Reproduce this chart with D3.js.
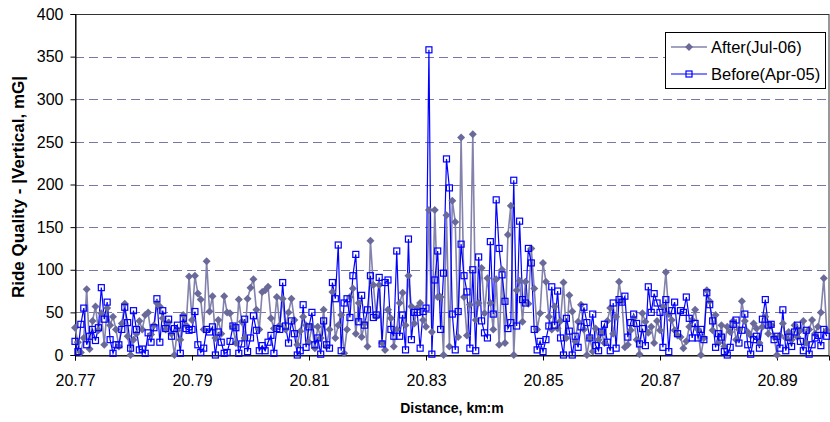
<!DOCTYPE html>
<html>
<head>
<meta charset="utf-8">
<script src="https://cdn.jsdelivr.net/npm/d3@7/dist/d3.min.js"></script>
<style>
  body { margin: 0; background: #fff; }
  text { font-family: Arial, "Liberation Sans", sans-serif; }
</style>
</head>
<body>
<div id="chart"></div>
<script>
// chart size and plot area
const width = 830;
const height = 422;
const margin = {top: 14, right: 1, bottom: 67, left: 75};

// distance axis: first sample and sample step (km), tick labels
var startKm = 20.77;
var stepKm = 0.0005;
var xTicks = [20.77, 20.79, 20.81, 20.83, 20.85, 20.87, 20.89];
var yTicks = [0, 50, 100, 150, 200, 250, 300, 350, 400];
var seriesNames = ["After(Jul-06)", "Before(Apr-05)"];

// ride quality values (mG), one per sample
var afterValues = [
  32, 15, 3, 20, 77, 7, 40, 57, 29, 49,
  12, 55, 35, 45, 30, 10, 37, 60, 22, 0,
  18, 25, 40, 30, 47, 50, 24, 35, 61, 57,
  43, 30, 38, 25, 0, 29, 18, 47, 35, 92,
  41, 93, 72, 65, 30, 110, 51, 69, 20, 41,
  25, 69, 50, 49, 33, 14, 65, 39, 20, 66,
  79, 89, 53, 30, 74, 76, 80, 43, 31, 68,
  35, 66, 30, 50, 66, 41, 12, 28, 45, 35,
  15, 33, 8, 33, 20, 53, 10, 30, 74, 20,
  35, 47, 2, 30, 68, 78, 25, 61, 21, 37,
  10, 134, 82, 45, 82, 14, 6, 53, 43, 10,
  30, 61, 73, 35, 93, 57, 37, 55, 61, 41,
  33, 170, 27, 170, 68, 68, 0, 164, 10, 181,
  156, 21, 255, 68, 23, 59, 259, 41, 61, 102,
  49, 90, 61, 30, 89, 12, 100, 14, 141, 175,
  0, 76, 87, 39, 86, 60, 125, 78, 30, 49,
  108, 86, 45, 30, 57, 31, 40, 85, 20, 70,
  51, 16, 39, 59, 30, 0, 20, 4, 31, 18,
  27, 14, 40, 55, 25, 45, 86, 63, 9, 12,
  29, 43, 18, 1, 49, 39, 26, 33, 14, 40,
  29, 57, 97, 48, 41, 29, 23, 21, 8, 16,
  33, 41, 53, 30, 0, 20, 76, 63, 29, 47,
  14, 35, 10, 33, 27, 40, 18, 30, 63, 40,
  27, 23, 37, 31, 14, 33, 45, 25, 35, 21,
  0, 23, 37, 20, 27, 18, 35, 21, 29, 40,
  14, 30, 41, 25, 33, 50, 90, 29
];

var beforeValues = [
  16, 4, 36, 55, 12, 22, 30, 17, 32, 79,
  42, 62, 18, 2, 12, 12, 30, 56, 38, 8,
  52, 30, 6, 7, 2, 26, 15, 32, 66, 15,
  52, 31, 42, 22, 31, 35, 2, 43, 31, 29,
  30, 51, 12, 3, 8, 30, 27, 33, 0, 27,
  15, 2, 3, 16, 34, 32, 2, 13, 42, 4,
  20, 46, 29, 5, 11, 5, 15, 23, 2, 31,
  30, 85, 34, 14, 40, 25, 0, 5, 59, 9,
  33, 50, 12, 20, 1, 40, 12, 8, 85, 66,
  129, 5, 61, 66, 44, 93, 118, 39, 70, 35,
  53, 93, 44, 47, 91, 13, 85, 88, 30, 22,
  122, 22, 47, 6, 136, 18, 50, 50, 8, 51,
  55, 358, 1, 88, 122, 30, 96, 230, 196, 48,
  6, 51, 130, 93, 74, 8, 100, 5, 115, 40,
  26, 20, 133, 48, 182, 125, 94, 63, 31, 38,
  205, 34, 157, 65, 61, 125, 108, 30, 6, 16,
  4, 18, 34, 80, 35, 75, 20, 0, 43, 28,
  0, 22, 9, 33, 56, 38, 20, 48, 11, 5,
  27, 36, 15, 5, 61, 8, 65, 62, 69, 21,
  38, 48, 37, 13, 31, 11, 80, 50, 72, 61,
  50, 9, 65, 4, 52, 62, 25, 52, 50, 68,
  43, 20, 37, 20, 30, 18, 73, 59, 40, 9,
  25, 21, 4, 0, 9, 36, 41, 14, 29, 48,
  12, 1, 18, 22, 8, 42, 65, 35, 36, 18,
  22, 8, 53, 5, 21, 10, 27, 35, 16, 5,
  29, 1, 12, 20, 23, 11, 30, 22
];

// colours of the two series
var afterColor = "#6a6a9a";
var afterLine = "#8282ac";
var beforeColor = "#0000ff";

var svg = d3.select("#chart")
    .append("svg")
    .attr("width", width)
    .attr("height", height);

var x = d3.scaleLinear()
    .domain([startKm, startKm + (width - margin.left - margin.right) / 5850])
    .range([margin.left, width - margin.right]);

var y = d3.scaleLinear()
    .domain([0, 400])
    .range([height - margin.bottom, margin.top]);

// dashed gridlines
svg.append("g")
    .selectAll("line")
    .data(yTicks.filter(function(d) { return d > 0 && d < 400; }))
    .enter()
    .append("line")
    .attr("x1", margin.left)
    .attr("x2", width - margin.right)
    .attr("y1", function(d) { return Math.round(y(d)) + 0.5; })
    .attr("y2", function(d) { return Math.round(y(d)) + 0.5; })
    .style("stroke", "#7878a6")
    .style("stroke-dasharray", "9,5");

// plot area frame
svg.append("rect")
    .attr("x", margin.left + 0.5)
    .attr("y", margin.top + 0.5)
    .attr("width", width - margin.left - margin.right - 0.5)
    .attr("height", height - margin.top - margin.bottom)
    .style("fill", "none")
    .style("stroke", "#333");

// axes
var yAxis = svg.append("g")
    .attr("transform", "translate(" + (margin.left + 0.5) + ",0)")
    .call(d3.axisLeft(y).tickValues(yTicks).tickSize(5).tickPadding(7));

var xAxis = svg.append("g")
    .attr("transform", "translate(0," + (height - margin.bottom + 0.5) + ")")
    .call(d3.axisBottom(x).tickValues(xTicks).tickFormat(d3.format(".2f"))
      .tickSize(5).tickPadding(14));

[xAxis, yAxis].forEach(function(a) {
  a.select(".domain").style("stroke", "#000");
  a.selectAll(".tick line").style("stroke", "#000");
  a.selectAll("text")
    .style("font-size", "16px")
    .style("font-family", "Arial, 'Liberation Sans', sans-serif")
    .style("fill", "#000");
});

// lines of both series
var line = d3.line()
    .x(function(d, i) { return x(startKm + i * stepKm); })
    .y(function(d) { return y(d); });

svg.append("path")
    .datum(afterValues)
    .attr("d", line)
    .style("fill", "none")
    .style("stroke", afterLine)
    .style("stroke-width", 1.6);

svg.append("path")
    .datum(beforeValues)
    .attr("d", line)
    .style("fill", "none")
    .style("stroke", beforeColor)
    .style("stroke-width", 1.2);

// markers: diamonds for After, open squares for Before
var diamond = "M0,-4L4,0L0,4L-4,0Z";

svg.append("g")
    .selectAll("path")
    .data(afterValues)
    .enter()
    .append("path")
    .attr("d", diamond)
    .attr("transform", function(d, i) {
        return "translate(" + x(startKm + i * stepKm) + "," + y(d) + ")";
    })
    .style("fill", afterColor);

svg.append("g")
    .selectAll("rect")
    .data(beforeValues)
    .enter()
    .append("rect")
    .attr("x", function(d, i) { return x(startKm + i * stepKm) - 3; })
    .attr("y", function(d) { return y(d) - 3; })
    .attr("width", 6)
    .attr("height", 6)
    .style("fill", "none")
    .style("stroke", beforeColor)
    .style("stroke-width", 1.2);

// axis titles
svg.append("text")
    .attr("x", 452)
    .attr("y", 413)
    .attr("text-anchor", "middle")
    .style("font-size", "14px")
    .style("font-weight", "bold")
    .text("Distance, km:m");

svg.append("text")
    .attr("transform", "translate(24,187) rotate(-90)")
    .attr("text-anchor", "middle")
    .style("font-size", "17px")
    .style("font-weight", "bold")
    .text("Ride Quality - |Vertical, mG|");

// legend
var legend = svg.append("g").attr("transform", "translate(665,32)");

legend.append("rect")
    .attr("x", 0.5)
    .attr("y", 0.5)
    .attr("width", 160)
    .attr("height", 56)
    .style("fill", "#fff")
    .style("stroke", "#000");

var items = legend.selectAll(".item")
    .data(seriesNames)
    .enter()
    .append("g")
    .attr("class", "item")
    .attr("transform", function(d, i) { return "translate(0," + (15 + i * 27) + ")"; });

items.append("line")
    .attr("x1", 6)
    .attr("x2", 42)
    .style("stroke", function(d, i) { return i == 0 ? afterLine : beforeColor; })
    .style("stroke-width", function(d, i) { return i == 0 ? 1.6 : 1.2; });

items.filter(function(d, i) { return i == 0; })
    .append("path")
    .attr("d", diamond)
    .attr("transform", "translate(24,0)")
    .style("fill", afterColor);

items.filter(function(d, i) { return i == 1; })
    .append("rect")
    .attr("x", 21)
    .attr("y", -3)
    .attr("width", 6)
    .attr("height", 6)
    .style("fill", "none")
    .style("stroke", beforeColor)
    .style("stroke-width", 1.2);

items.append("text")
    .attr("x", 46)
    .attr("dy", "0.35em")
    .style("font-size", "16.5px")
    .text(function(d) { return d; });
</script>
</body>
</html>
